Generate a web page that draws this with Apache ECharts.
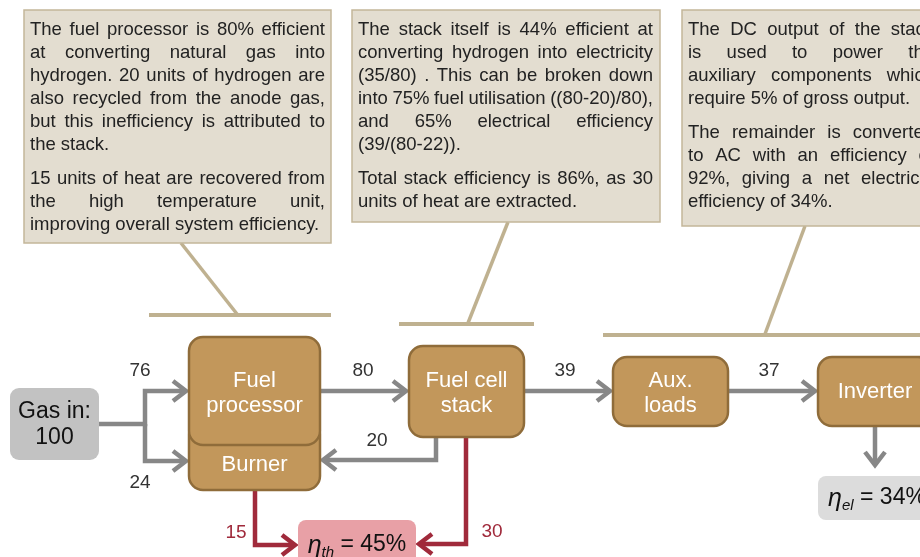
<!DOCTYPE html>
<html><head><meta charset="utf-8">
<script src="https://cdn.jsdelivr.net/npm/echarts@6/dist/echarts.min.js"></script>
<style>html,body{margin:0;padding:0;background:#fff}#c{width:920px;height:557px}</style>
</head><body><div id="c"></div>
<script>
// ---------- content ----------
const nodeNames = ['Gas in:\n100', 'Burner', 'Fuel\nprocessor', 'Fuel cell\nstack', 'Aux.\nloads', 'Inverter'];
const flowValues = [76, 24, 80, 20, 39, 37, 15, 30, null];
const flowKinds = ['mass', 'mass', 'mass', 'mass', 'mass', 'mass', 'heat', 'heat', 'mass'];
const efficiencySubs = ['th', 'el'];
const efficiencyValues = ['45%', '34%'];
const calloutParagraphs = [
  [
    ['The fuel processor is 80% efficient', 'at converting natural gas into', 'hydrogen. 20 units of hydrogen are', 'also recycled from the anode gas,', 'but this inefficiency is attributed to', 'the stack.'],
    ['15 units of heat are recovered from', 'the high temperature unit,', 'improving overall system efficiency.']
  ],
  [
    ['The stack itself is 44% efficient at', 'converting hydrogen into electricity', '(35/80) .  This can be broken down', 'into 75% fuel utilisation ((80-20)/80),', 'and 65% electrical efficiency', '(39/(80-22)).'],
    ['Total stack efficiency is 86%, as 30', 'units of heat are extracted.']
  ],
  [
    ['The DC output of the stack', 'is used to power the', 'auxiliary components which', 'require 5% of gross output.'],
    ['The remainder is converted', 'to AC with an efficiency of', '92%, giving a net electrical', 'efficiency of 34%.']
  ]
];

// ---------- layout (diagram units = pixels on hidden axes) ----------
const nodeRects = [[10, 388, 99, 460], [189, 420, 320, 490], [189, 337, 320, 445], [409, 346, 524, 437], [613, 357, 728, 426], [818, 357, 932, 426]];
const nodeTextCY = [425, 465, 393.5, 393, 393, 392];
const flowPaths = [
  [[99, 424], [145, 424], [145, 391], [188, 391]],
  [[145, 424], [145, 461], [188, 461]],
  [[320, 391], [408, 391]],
  [[436, 437], [436, 460], [321, 460]],
  [[524, 391], [612, 391]],
  [[728, 391], [817, 391]],
  [[255, 490], [255, 545], [297, 545]],
  [[466, 437], [466, 544], [417, 544]],
  [[875, 426], [875, 467]]
];
const flowLabelPos = [[140, 371], [140, 483], [363, 371], [377, 441], [565, 371], [769, 371], [236, 533], [492, 532], null];
const effRects = [[298, 520, 416, 575], [818, 476, 936, 520]];
const effTextC = [[357, 545], [877, 498]];
const calloutRects = [[24, 10, 331, 243], [352, 10, 660, 222], [682, 10, 940, 226]];
const calloutTextWidth = [295, 295, 246];
const calloutPointers = [[[181, 243], [237, 314]], [[508, 222], [468, 323]], [[805, 226], [765, 334]]];
const calloutBars = [[[149, 315], [331, 315]], [[399, 324], [534, 324]], [[603, 335], [940, 335]]];

// ---------- styles ----------
const FONT = '"Liberation Sans", Arial, Helvetica, sans-serif';
const C = {
  calloutFill: '#e3ddd0', calloutStroke: '#c3b699', pointer: '#bfb190',
  unitFill: '#c2975b', unitStroke: '#8f6c3a', gasFill: '#c2c2c2',
  mass: '#878787', heat: '#a02a3b', effTh: '#e8a0a6', effEl: '#dcdcdc', text: '#222'
};

const mctx = document.createElement('canvas').getContext('2d');
function textW(t, font) { mctx.font = font; return mctx.measureText(t).width; }

const chart = echarts.init(document.getElementById('c'), null, { renderer: 'canvas' });

function txt(x, y, text, font, fill, align) {
  return { type: 'text', x: x, y: y, style: { text: text, font: font, fill: fill, align: align || 'center', verticalAlign: 'middle' } };
}

function renderCallout(params, api) {
  const i = api.value(2);
  const r = calloutRects[i];
  const a = api.coord([r[0], r[1]]), b = api.coord([r[2], r[3]]);
  const ch = [];
  ch.push({ type: 'polyline', shape: { points: calloutPointers[i].map(p => api.coord(p)) }, style: { stroke: C.pointer, lineWidth: 3.5, fill: null } });
  ch.push({ type: 'polyline', shape: { points: calloutBars[i].map(p => api.coord(p)) }, style: { stroke: C.pointer, lineWidth: 4, fill: null } });
  ch.push({ type: 'rect', shape: { x: a[0], y: a[1], width: b[0] - a[0], height: b[1] - a[1] }, style: { fill: C.calloutFill, stroke: C.calloutStroke, lineWidth: 1.5 } });
  const font = '18.5px ' + FONT;
  const x0 = r[0] + 6, width = calloutTextWidth[i];
  let y = r[1] + 20;
  calloutParagraphs[i].forEach((para, pi) => {
    if (pi > 0) y += 11;
    para.forEach((line, li) => {
      const p = api.coord([x0, y]);
      const last = li === para.length - 1;
      const words = line.split(/\s+/);
      if (last || words.length < 2) {
        ch.push(txt(p[0], p[1], line, font, C.text, 'left'));
      } else {
        const ws = words.map(w => textW(w, font));
        const sum = ws.reduce((s, v) => s + v, 0);
        const gap = (width - sum) / (words.length - 1);
        let x = p[0];
        words.forEach((w, wi) => { ch.push(txt(x, p[1], w, font, C.text, 'left')); x += ws[wi] + gap; });
      }
      y += 23;
    });
  });
  return { type: 'group', children: ch };
}

function renderNode(params, api) {
  const i = api.value(2);
  const r = nodeRects[i];
  const a = api.coord([r[0], r[1]]), b = api.coord([r[2], r[3]]);
  const gas = i === 0;
  const ch = [{ type: 'rect', shape: { x: a[0], y: a[1], width: b[0] - a[0], height: b[1] - a[1], r: gas ? 9 : 14 },
    style: gas ? { fill: C.gasFill } : { fill: C.unitFill, stroke: C.unitStroke, lineWidth: 2.5 } }];
  const lines = nodeNames[i].split('\n');
  const lh = gas ? 26 : 25;
  const cx = (r[0] + r[2]) / 2;
  const font = (gas ? '23px ' : '22px ') + FONT;
  lines.forEach((l, k) => {
    const p = api.coord([cx, nodeTextCY[i] + (k - (lines.length - 1) / 2) * lh]);
    ch.push(txt(p[0], p[1], l, font, gas ? '#111' : '#fff'));
  });
  return { type: 'group', children: ch };
}

function renderFlow(params, api) {
  const i = api.value(2);
  const pts = flowPaths[i].map(p => api.coord(p));
  const color = C[flowKinds[i]];
  const n = pts.length;
  const tip = pts[n - 1], prev = pts[n - 2];
  const dx = tip[0] - prev[0], dy = tip[1] - prev[1];
  const len = Math.hypot(dx, dy), ux = dx / len, uy = dy / len;
  const L = 15, Wd = 10;
  const shaft = pts.slice(0, n - 1).concat([[tip[0] - ux * 3, tip[1] - uy * 3]]);
  const head = [[tip[0] - ux * L - uy * Wd, tip[1] - uy * L + ux * Wd], [tip[0] - ux * 2, tip[1] - uy * 2], [tip[0] - ux * L + uy * Wd, tip[1] - uy * L - ux * Wd]];
  const ch = [
    { type: 'polyline', shape: { points: shaft }, style: { stroke: color, lineWidth: 4.5, fill: null, lineJoin: 'miter' } },
    { type: 'polyline', shape: { points: head }, style: { stroke: color, lineWidth: 4.5, fill: null, lineJoin: 'miter', lineCap: 'butt' } }
  ];
  if (flowValues[i] != null) {
    const lp = api.coord(flowLabelPos[i]);
    ch.push(txt(lp[0], lp[1], String(flowValues[i]), '19px ' + FONT, flowKinds[i] === 'heat' ? C.heat : '#333'));
  }
  return { type: 'group', children: ch };
}

function renderEff(params, api) {
  const i = api.value(2);
  const r = effRects[i];
  const a = api.coord([r[0], r[1]]), b = api.coord([r[2], r[3]]);
  const ch = [{ type: 'rect', shape: { x: a[0], y: a[1], width: b[0] - a[0], height: b[1] - a[1], r: 8 }, style: { fill: i === 0 ? C.effTh : C.effEl } }];
  const fE = 'italic 25px ' + FONT, fS = 'italic 15px ' + FONT, fN = '23px ' + FONT;
  const s1 = 'η', s2 = efficiencySubs[i], s3 = ' = ' + efficiencyValues[i];
  const w1 = textW(s1, fE), w2 = textW(s2, fS), w3 = textW(s3, fN);
  const c = api.coord(effTextC[i]);
  let x = c[0] - (w1 + w2 + w3) / 2;
  ch.push(txt(x, c[1] + 1, s1, fE, '#111', 'left')); x += w1;
  ch.push(txt(x, c[1] + 8, s2, fS, '#111', 'left')); x += w2;
  ch.push(txt(x, c[1], s3, fN, '#111', 'left'));
  return { type: 'group', children: ch };
}

chart.setOption({
  animation: false,
  backgroundColor: '#fff',
  grid: { left: 0, right: 0, top: 0, bottom: 0 },
  xAxis: { type: 'value', min: 0, max: 920, show: false },
  yAxis: { type: 'value', min: 0, max: 557, inverse: true, show: false },
  series: [
    { type: 'custom', z: 1, silent: true, clip: false, renderItem: renderCallout, data: calloutRects.map((r, i) => [r[0], r[1], i]) },
    { type: 'custom', z: 2, silent: true, clip: false, renderItem: renderFlow, data: flowPaths.map((p, i) => [p[0][0], p[0][1], i]) },
    { type: 'custom', z: 3, silent: true, clip: false, renderItem: renderNode, data: nodeRects.map((r, i) => [r[0], r[1], i]) },
    { type: 'custom', z: 3, silent: true, clip: false, renderItem: renderEff, data: effRects.map((r, i) => [r[0], r[1], i]) }
  ]
});
</script>
</body></html>
